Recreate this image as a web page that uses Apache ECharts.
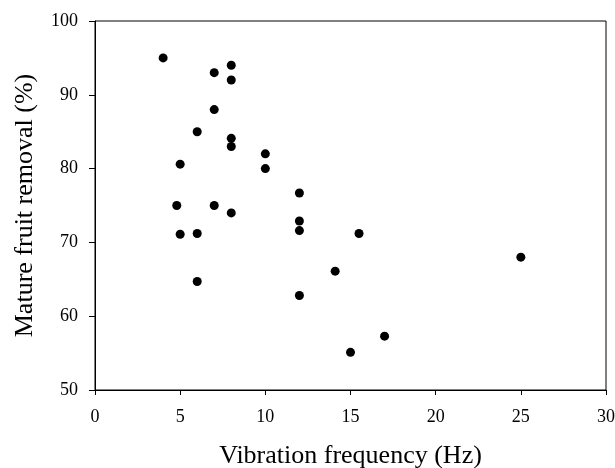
<!DOCTYPE html>
<html>
<head>
<meta charset="utf-8">
<script src="https://cdn.jsdelivr.net/npm/echarts@6/dist/echarts.min.js"></script>
<style>
html,body{margin:0;padding:0;background:#fff;}
#chart{width:615px;height:468px;}
</style>
</head>
<body>
<div id="chart"></div>
<script>
// Vibration frequency (Hz)
var frequency = [4, 7, 8, 8, 7, 6, 8, 8, 10, 10, 5, 12, 4.8, 7, 8, 12, 12, 5, 6, 15.5, 14.1, 6, 12, 15, 25, 17];
// Mature fruit removal (%)
var removal   = [95, 93, 94, 92, 88, 85, 84.1, 83, 82, 80, 80.6, 76.7, 75, 75, 74, 72.9, 71.6, 71.1, 71.2, 71.2, 66.1, 64.7, 62.8, 55.1, 68, 57.3];
var xTicks = [0, 5, 10, 15, 20, 25, 30];
var yTicks = [50, 60, 70, 80, 90, 100];

var points = frequency.map(function (f, i) { return [f, removal[i]]; });
var FONT = '"Liberation Serif", "Times New Roman", serif';

var chart = echarts.init(document.getElementById('chart'), null, {renderer: 'canvas'});
chart.setOption({
  animation: false,
  backgroundColor: '#fff',
  grid: {left: 95, right: 9, top: 21, bottom: 78, containLabel: false, outerBoundsMode: 'none',
         show: true, borderColor: '#000', borderWidth: 1, backgroundColor: 'transparent'},
  xAxis: {
    type: 'value',
    min: xTicks[0], max: xTicks[xTicks.length - 1], interval: 5,
    name: 'Vibration frequency (Hz)',
    nameLocation: 'middle', nameGap: 53,
    nameTextStyle: {fontFamily: FONT, fontSize: 26, color: '#000'},
    axisLine: {show: true, lineStyle: {color: '#000', width: 1}},
    axisTick: {show: true, inside: false, length: 5, lineStyle: {color: '#000'}},
    axisLabel: {fontFamily: FONT, fontSize: 18, color: '#000', margin: 18},
    splitLine: {show: false}
  },
  yAxis: {
    type: 'value',
    min: yTicks[0], max: yTicks[yTicks.length - 1], interval: 10,
    name: 'Mature fruit removal (%)',
    nameLocation: 'middle', nameGap: 57,
    nameTextStyle: {fontFamily: FONT, fontSize: 26, color: '#000'},
    axisLine: {show: true, lineStyle: {color: '#000', width: 1}},
    axisTick: {show: true, inside: false, length: 6, lineStyle: {color: '#000'}},
    axisLabel: {fontFamily: FONT, fontSize: 18, color: '#000', margin: 17},
    splitLine: {show: false}
  },
  series: [{
    type: 'scatter',
    data: points,
    symbol: 'circle',
    symbolSize: 9,
    itemStyle: {color: '#000', opacity: 1}
  }]
});
</script>
</body>
</html>
